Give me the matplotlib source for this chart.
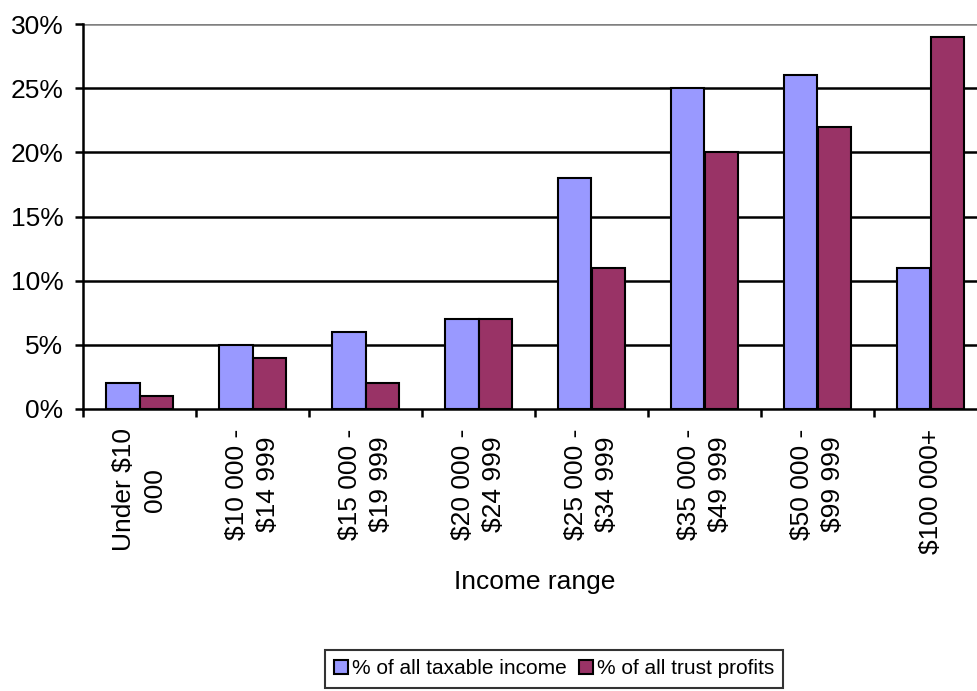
import matplotlib.pyplot as plt
from matplotlib.ticker import FixedLocator

plt.rcParams['font.family'] = ['Liberation Sans', 'DejaVu Sans']

categories = ["Under $10\n000", "$10 000 -\n$14 999", "$15 000 -\n$19 999",
              "$20 000 -\n$24 999", "$25 000 -\n$34 999", "$35 000 -\n$49 999",
              "$50 000 -\n$99 999", "$100 000+"]
taxable = [2, 5, 6, 7, 18, 25, 26, 11]
trust = [1, 4, 2, 7, 11, 20, 22, 29]
yticks = [0, 5, 10, 15, 20, 25, 30]

fs = 19
fig = plt.figure(figsize=(9.77, 6.91), dpi=100)
ax = fig.add_axes([83 / 977, 1 - 409 / 691, 904 / 977, 385 / 691])

x = list(range(len(categories)))
ax.bar([i + 0.35 for i in x], taxable, width=0.3, color="#9999FF",
       edgecolor="black", linewidth=1.5, label="% of all taxable income", zorder=3)
ax.bar([i + 0.65 for i in x], trust, width=0.3, color="#993366",
       edgecolor="black", linewidth=1.5, label="% of all trust profits", zorder=3)

for y in yticks[1:-1]:
    ax.axhline(y, color="black", linewidth=1.8, zorder=1)
ax.axhline(30, color="#808080", linewidth=1.8, zorder=1)

ax.set_xlim(0, len(categories))
ax.set_ylim(0, 30)
ax.set_yticks(yticks)
ax.set_yticklabels(["%d%%" % v for v in yticks], fontsize=fs)
ax.xaxis.set_major_locator(FixedLocator(list(range(len(categories) + 1))))
ax.set_xticklabels([])
ax.xaxis.set_minor_locator(FixedLocator([i + 0.5 for i in x]))
ax.set_xticklabels(categories, minor=True, rotation=90, fontsize=fs,
                   ha="center", va="top", multialignment="center", linespacing=1.35)
ax.tick_params(axis="x", which="minor", length=0, pad=14)
ax.tick_params(axis="both", which="major", length=6, width=1.8, direction="out")
ax.tick_params(axis="y", pad=8)

for s in ["top", "right"]:
    ax.spines[s].set_visible(False)
for s in ["left", "bottom"]:
    ax.spines[s].set_linewidth(1.8)

ax.set_xlabel("Income range", fontsize=fs, labelpad=12)

# legend text in the source is horizontally squeezed; smaller size matches its width
leg = fig.legend(loc="center", bbox_to_anchor=(554 / 977, 1 - 669 / 691), ncol=2,
                 fontsize=15, frameon=True, fancybox=False, handlelength=0.65,
                 handleheight=0.65, handletextpad=0.2, columnspacing=0.6,
                 borderpad=0.45, borderaxespad=0)
leg.get_frame().set_edgecolor("black")
leg.get_frame().set_linewidth(1.5)

fig.savefig("out.png", dpi=100)
